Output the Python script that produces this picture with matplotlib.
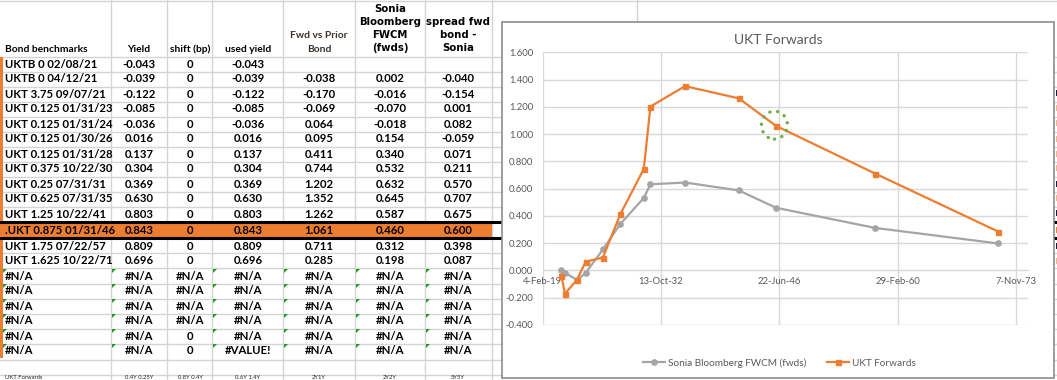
import matplotlib
matplotlib.use("Agg")
import matplotlib.pyplot as plt
from matplotlib.patches import Rectangle, Ellipse, Polygon
from matplotlib.ticker import FixedLocator, FuncFormatter
import numpy as np
import datetime as dt

# ---------------- data ----------------
bonds = ["UKTB 0 02/08/21", "UKTB 0 04/12/21", "UKT 3.75 09/07/21", "UKT 0.125 01/31/23",
         "UKT 0.125 01/31/24", "UKT 0.125 01/30/26", "UKT 0.125 01/31/28", "UKT 0.375 10/22/30",
         "UKT 0.25 07/31/31", "UKT 0.625 07/31/35", "UKT 1.25 10/22/41", ".UKT 0.875 01/31/46",
         "UKT 1.75 07/22/57", "UKT 1.625 10/22/71"]
maturities = ["2021-02-08", "2021-04-12", "2021-09-07", "2023-01-31", "2024-01-31", "2026-01-30",
              "2028-01-31", "2030-10-22", "2031-07-31", "2035-07-31", "2041-10-22", "2046-01-31",
              "2057-07-22", "2071-10-22"]
yields = [-0.043, -0.039, -0.122, -0.085, -0.036, 0.016, 0.137, 0.304, 0.369, 0.630, 0.803, 0.843, 0.809, 0.696]
shift_bp = [0, 0, 0, 0, 0, 0, 0, 0, 0, 0, 0, 0, 0, 0]
used_yield = [-0.043, -0.039, -0.122, -0.085, -0.036, 0.016, 0.137, 0.304, 0.369, 0.630, 0.803, 0.843, 0.809, 0.696]
fwd_vs_prior = [None, -0.038, -0.170, -0.069, 0.064, 0.095, 0.411, 0.744, 1.202, 1.352, 1.262, 1.061, 0.711, 0.285]
sonia_fwds = [None, 0.002, -0.016, -0.070, -0.018, 0.154, 0.340, 0.532, 0.632, 0.645, 0.587, 0.460, 0.312, 0.198]
spread_fwd = [None, -0.040, -0.154, 0.001, 0.082, -0.059, 0.071, 0.211, 0.570, 0.707, 0.675, 0.600, 0.398, 0.087]
highlight_row = 11

na_shift = ["#N/A", "#N/A", "#N/A", "#N/A", "0", "0"]
na_used = ["#N/A", "#N/A", "#N/A", "#N/A", "#N/A", "#VALUE!"]
bottom_row = ["UKT Forwards", "0.4Y 0.25Y", "0.8Y 0.4Y", "0.6Y 1.4Y", "2Y1Y", "2Y2Y", "5Y5Y"]

chart_title = "UKT Forwards"
series_names = ["Sonia Bloomberg FWCM (fwds)", "UKT Forwards"]
x_axis_min, x_axis_max, x_major = 43500, 64000, 5000
y_axis_min, y_axis_max, y_major = -0.4, 1.6, 0.2

# ---------------- helpers ----------------
EPOCH = dt.date(1899, 12, 30)
def serial(s):
    return (dt.date.fromisoformat(s) - EPOCH).days
def date_label(v, pos=None):
    d = EPOCH + dt.timedelta(days=int(round(v)))
    return f"{d.day}-{d.strftime('%b')}-{d.strftime('%y')}"

W, H = 1057, 380
fig = plt.figure(figsize=(W / 100, H / 100), dpi=100)
fig.patch.set_facecolor("white")
bg = fig.add_axes([0, 0, 1, 1])
bg.set_xlim(0, W)
bg.set_ylim(H, 0)
bg.axis("off")

GRID = "#D4D4D4"
FONT = "Lato"
TXT = dict(family=FONT, fontsize=8.2, color="black", weight="bold")

col_edges = [111, 167, 212, 283, 355, 425, 492]
col_centers = [139, 190, 248, 319, 390, 458]

# row geometry
row_centers = [64 + 15 * i for i in range(11)] + [230] + [246 + 15 * i for i in range(10)]
row_bounds = [56.5 + 15 * i for i in range(12)] + [238 + 15.2 * i for i in range(10)]

# cell grid
for x in col_edges:
    bg.plot([x, x], [0, H], color=GRID, lw=1, zorder=1)
bg.plot([0, W], [1, 1], color=GRID, lw=1, zorder=1)
bg.plot([637, 637], [0, 22], color=GRID, lw=1, zorder=1)
for y in row_bounds:
    bg.plot([0, W], [y, y], color=GRID, lw=1, zorder=1)

# left orange bar
bg.add_patch(Rectangle((0, 57), 3, 301, color="#ED7D31", zorder=2, lw=0))
# highlighted row
bg.add_patch(Rectangle((3, 222), 489, 16, color="#ED7D31", zorder=2, lw=0))
bg.plot([0, 502], [222, 222], color="black", lw=2.2, zorder=3)
bg.plot([0, 502], [238, 238], color="black", lw=2.2, zorder=3)

# headers
HDR = dict(family=FONT, fontsize=7.4, color="black", weight="bold", va="center")
bg.text(5, 49, "Bond benchmarks", ha="left", **HDR)
bg.text(139, 49, "Yield", ha="center", **HDR)
bg.text(190, 49, "shift (bp)", ha="center", **HDR)
bg.text(248, 49, "used yield", ha="center", **HDR)
bg.text(319, 35, "Fwd vs Prior", ha="center", **dict(HDR, color="#3a3028"))
bg.text(319, 49, "Bond", ha="center", **dict(HDR, color="#3a3028"))
H2 = dict(family="DejaVu Sans", fontsize=7.3, color="black", weight="bold", va="center", ha="center")
for yy, t in zip([9, 22, 35, 48], ["Sonia", "Bloomberg", "FWCM", "(fwds)"]):
    bg.text(390, yy, t, **H2)
for yy, t in zip([22, 35, 48], ["spread fwd", "bond -", "Sonia"]):
    bg.text(458, yy, t, **H2)

def fmt3(v):
    return "" if v is None else f"{v:.3f}"

for i, name in enumerate(bonds):
    yc = row_centers[i]
    bg.text(5, yc, name, ha="left", va="center", zorder=4, **TXT)
    vals = [fmt3(yields[i]), str(shift_bp[i]), fmt3(used_yield[i]),
            fmt3(fwd_vs_prior[i]), fmt3(sonia_fwds[i]), fmt3(spread_fwd[i])]
    for cx, v in zip(col_centers, vals):
        bg.text(cx, yc, v, ha="center", va="center", zorder=4, **TXT)

TRI = "#1E9A1E"
for k in range(6):
    yc = row_centers[len(bonds) + k]
    top = yc - 7
    bg.text(5, yc, "#N/A", ha="left", va="center", zorder=4, **TXT)
    vals = ["#N/A", na_shift[k], na_used[k], "#N/A", "#N/A", "#N/A"]
    for cx, v in zip(col_centers, vals):
        bg.text(cx, yc, v, ha="center", va="center", zorder=4, **TXT)
    for x0 in [3, 112, 213, 284, 356, 426]:
        bg.add_patch(Polygon([(x0, top), (x0 + 4, top), (x0, top + 4)], closed=True,
                             color=TRI, lw=0, zorder=4))

# partial bottom row (small so it stays inside the picture)
BT = dict(family=FONT, fontsize=4.2, color="#222222", va="bottom")
bg.text(5, 379.6, bottom_row[0], ha="left", **BT)
for cx, t in zip(col_centers, bottom_row[1:]):
    bg.text(cx, 379.6, t, ha="center", **BT)

# marks in cells to the right of the chart
for yc, c in zip([93, 108, 123, 139, 154, 168, 184, 198, 213, 230, 246, 261],
                 ["#1a1a40", "#F4B183", "#F4B183", "#F4B183", "#F4B183", "#F4B183",
                  "#1a1a40", "#F4B183", "#1a1a40", "#ED7D31", "#1a1a40", "#F4B183"]):
    bg.add_patch(Rectangle((1055.5, yc - 3), 1.5, 6, color=c, lw=0, zorder=2))
bg.plot([1054, W], [222, 222], color="black", lw=2.2, zorder=3)
bg.plot([1054, W], [238, 238], color="black", lw=2.2, zorder=3)

# chart box
bg.add_patch(Rectangle((502, 22), 552, 356, facecolor="white", edgecolor="#8C8C8C", lw=1.2, zorder=10))

# ---------------- chart ----------------
x0, x1, yt, yb = 542.5, 1027.8, 52.3, 325.0
ax = fig.add_axes([x0 / W, (H - yb) / H, (x1 - x0) / W, (yb - yt) / H], zorder=20)
ax.patch.set_alpha(0)
ax.set_xlim(x_axis_min, x_axis_max)
ax.set_ylim(y_axis_min, y_axis_max)
ax.xaxis.set_major_locator(FixedLocator(np.arange(x_axis_min, x_axis_max + 1, x_major)))
ax.xaxis.set_major_formatter(FuncFormatter(date_label))
ax.yaxis.set_major_locator(FixedLocator(np.arange(y_axis_min, y_axis_max + 1e-9, y_major)))
ax.yaxis.set_major_formatter(FuncFormatter(lambda v, p: f"{v:.3f}"))
ax.grid(True, color="#D9D9D9", lw=1.0)
ax.set_axisbelow(True)
for s in ["top", "right", "left"]:
    ax.spines[s].set_visible(False)
ax.spines["bottom"].set_position(("data", 0))
ax.spines["bottom"].set_color("#D9D9D9")
ax.tick_params(axis="both", length=0, labelcolor="#595959", labelsize=6.8)
ax.tick_params(axis="y", pad=6.5)
ax.tick_params(axis="x", pad=5)
for lab in ax.get_xticklabels() + ax.get_yticklabels():
    lab.set_family(FONT)

xs = [serial(m) for m in maturities]
sx = [x for x, v in zip(xs, sonia_fwds) if v is not None]
sy = [v for v in sonia_fwds if v is not None]
fx = [x for x, v in zip(xs, fwd_vs_prior) if v is not None]
fy = [v for v in fwd_vs_prior if v is not None]
ax.plot(sx, sy, color="#A5A5A5", lw=1.6, marker="o", ms=3.8, label=series_names[0], zorder=3)
ax.plot(fx, fy, color="#ED7D31", lw=1.6, marker="s", ms=3.6, label=series_names[1], zorder=4)

# green dotted highlight circle around the highlighted bond
hx, hy = xs[highlight_row], fwd_vs_prior[highlight_row]
circ = Ellipse((hx - 60, hy + 0.005), 1100, 0.205, fill=False, edgecolor="#70AD47",
               lw=2.4, linestyle=(0, (0.05, 2.3)), zorder=5, clip_on=False)
circ.set_capstyle("round")
ax.add_patch(circ)

fig.text(778 / W, (H - 40) / H, chart_title, ha="center", va="center", family=FONT,
         fontsize=10, color="#595959", zorder=30)

leg = ax.legend(loc="center", bbox_to_anchor=(779.5 / W, (H - 363) / H), bbox_transform=fig.transFigure,
                ncol=2, frameon=False, prop=dict(family=FONT, size=7.2), handlelength=2.2,
                handletextpad=0.3, columnspacing=2.0)
for t in leg.get_texts():
    t.set_color("#595959")

fig.savefig("out.png", dpi=100)
